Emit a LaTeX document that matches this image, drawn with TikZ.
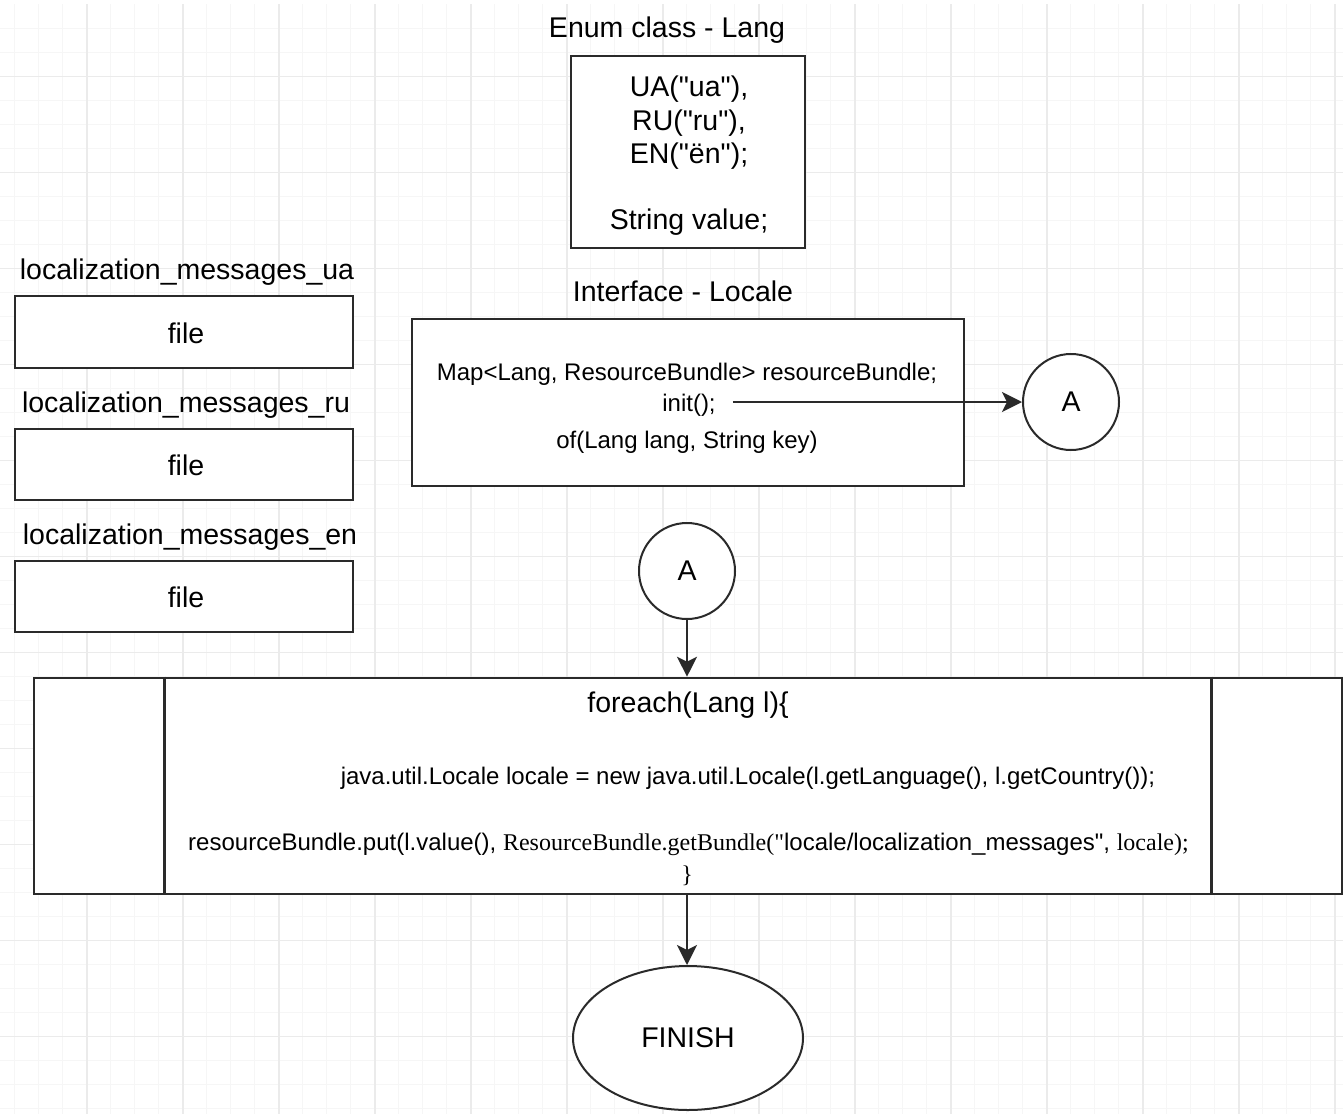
\documentclass[tikz,border=0pt]{standalone}
\usepackage{fontspec}
\setmainfont{Liberation Sans}
\newfontfamily\codeserif{Liberation Serif}
\usetikzlibrary{arrows.meta,shapes.geometric}
\definecolor{gridminor}{HTML}{F6F6F6}
\definecolor{gridmajor}{HTML}{EBEBEB}
\definecolor{edge}{HTML}{2A2A2A}
\newcommand{\dq}{\textquotedbl}

\begin{document}
\begin{tikzpicture}[x=1pt,y=-1pt,
  bigtxt/.style={inner sep=0pt, font=\fontsize{28.5}{33.5}\selectfont, text height=20.5pt, text depth=6pt},
  smalltxt/.style={inner sep=0pt, font=\fontsize{24}{34}\selectfont, text height=17pt, text depth=5pt},
  box/.style={draw=edge, line width=2.6pt, fill=white, rectangle, inner sep=0pt},
  connector/.style={circle, draw=edge, line width=2pt, fill=white, minimum size=96pt, inner sep=0pt,
    font=\fontsize{28.5}{33.5}\selectfont},
  flow/.style={draw=edge, line width=2pt, -{Stealth[length=20pt, width=20pt, inset=5pt]}},
]
\useasboundingbox (0,0) rectangle (1343,1114);
\fill[white] (0,0) rectangle (1343,1114);

% background grid
\foreach \i in {0,...,55}
  \draw[gridminor, line width=1.3pt] ({14.7+24*\i},4) -- ({14.7+24*\i},1114);
\foreach \j in {1,...,46}
  \draw[gridminor, line width=1.3pt] (0,{4.5+24*\j}) -- (1343,{4.5+24*\j});
\foreach \i in {0,...,13}
  \draw[gridmajor, line width=1.6pt] ({86.7+96*\i},4) -- ({86.7+96*\i},1114);
\foreach \j in {0,...,10}
  \draw[gridmajor, line width=1.6pt] (0,{76.5+96*\j}) -- (1343,{76.5+96*\j});

% enum Lang
\node[bigtxt] (enumlbl) at (667,30) {Enum class - Lang};
\node[box, minimum width=234pt, minimum height=192pt] (enumbox) at (688,152) {};
\node[inner sep=0pt, align=center, font=\fontsize{28.5}{33.3}\selectfont] (enumtext) at (689,156)
  {UA(\dq ua\dq),\\RU(\dq ru\dq),\\EN(\dq ën\dq);\\[33.3pt]String value;};

% interface Locale
\node[bigtxt] (ifacelbl) at (683,294) {Interface - Locale};
\node[box, minimum width=552pt, minimum height=167pt] (ifacebox) at (688,402.5) {};
\node[smalltxt] (mapline) at (687,374) {Map<Lang, ResourceBundle> resourceBundle;};
\node[smalltxt] (initline) at (689,405) {init();};
\node[smalltxt] (ofline) at (687,442) {of(Lang lang, String key)};
\node[connector] (aout) at (1071,402) {A};
\coordinate (initend) at ([xshift=17pt]initline.east);
\draw[flow] (initend |- aout) -- (aout.west);

% resource files
\node[bigtxt] (ualbl) at (187,272) {localization\_messages\_ua};
\node[box, minimum width=338pt, minimum height=72pt] (uabox) at (184,332) {};
\node[bigtxt] (uafile) at (186,336) {file};
\node[bigtxt] (rulbl) at (186,405) {localization\_messages\_ru};
\node[box, minimum width=338pt, minimum height=71pt] (rubox) at (184,464.5) {};
\node[bigtxt] (rufile) at (186,468) {file};
\node[bigtxt] (enlbl) at (190,537) {localization\_messages\_en};
\node[box, minimum width=338pt, minimum height=71pt] (enbox) at (184,596.5) {};
\node[bigtxt] (enfile) at (186,600) {file};

% loop over languages
\node[connector] (ain) at (687,571) {A};
\node[box, minimum width=1308pt, minimum height=216pt] (loop) at (688,786) {};
\draw[draw=edge, line width=2.6pt] ([xshift=132pt]loop.north west) -- ([xshift=132pt]loop.south west);
\draw[draw=edge, line width=2.6pt] ([xshift=-132pt]loop.north east) -- ([xshift=-132pt]loop.south east);
\node[bigtxt] (loophead) at (688,705) {foreach(Lang l)\{};
\node[smalltxt] (localeline) at (748,778) {java.util.Locale locale = new java.util.Locale(l.getLanguage(), l.getCountry());};
\node[smalltxt] (putline) at (688.5,844) {resourceBundle.put(l.value(), {\codeserif ResourceBundle.getBundle(\dq}locale/localization\_messages\dq, {\codeserif locale);}};
\node[smalltxt] (loopend) at (687,876) {\codeserif \}};
\draw[flow] (ain.south) -- (ain.south |- loop.north);

% end
\node[ellipse, draw=edge, line width=2pt, fill=white, minimum width=230pt, minimum height=144pt,
  inner sep=0pt, font=\fontsize{28.5}{33.5}\selectfont] (finish) at (688,1038) {FINISH};
\coordinate (loopexit) at (loop.south -| ain.south);
\draw[flow] (loopexit) -- (loopexit |- finish.north);
\end{tikzpicture}
\end{document}
